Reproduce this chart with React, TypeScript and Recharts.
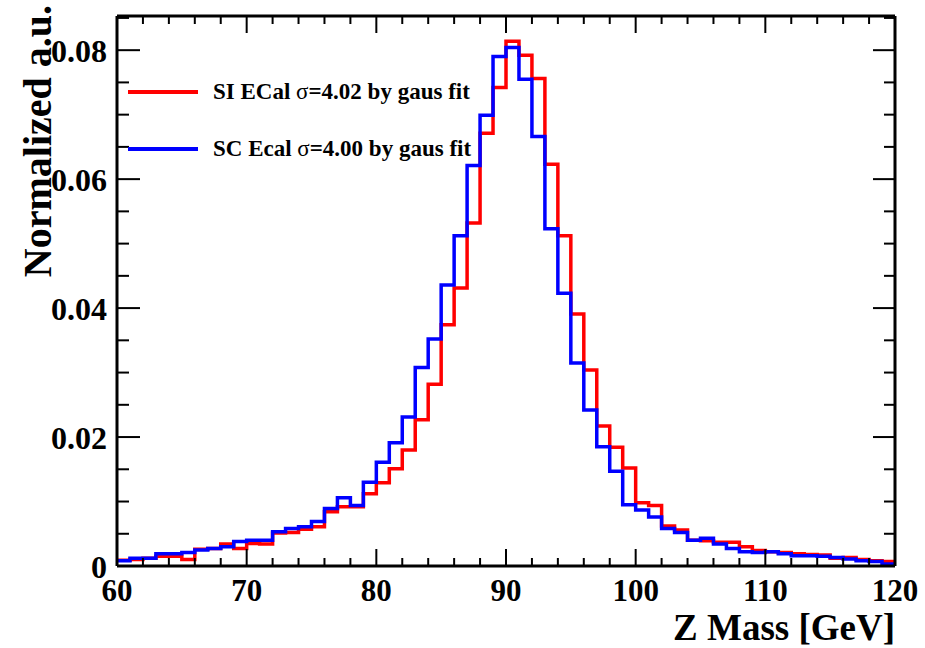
import { Label, Legend, Line, LineChart, XAxis, YAxis } from 'recharts'

// lower edge of each 1 GeV bin
const binLow = [
  60, 61, 62, 63, 64, 65, 66, 67, 68, 69, 70, 71, 72, 73, 74, 75, 76, 77, 78, 79,
  80, 81, 82, 83, 84, 85, 86, 87, 88, 89, 90, 91, 92, 93, 94, 95, 96, 97, 98, 99,
  100, 101, 102, 103, 104, 105, 106, 107, 108, 109, 110, 111, 112, 113, 114, 115, 116, 117, 118, 119,
]
const upperEdge = 120

const siEcal = [
  0.0009, 0.0010, 0.0012, 0.0015, 0.0015, 0.0010, 0.0026, 0.0027, 0.0034, 0.0027,
  0.0035, 0.0034, 0.0051, 0.0052, 0.0057, 0.0061, 0.0084, 0.0092, 0.0092, 0.0112,
  0.0129, 0.0151, 0.0180, 0.0227, 0.0282, 0.0374, 0.0431, 0.0532, 0.0671, 0.0742,
  0.0814, 0.0792, 0.0756, 0.0623, 0.0512, 0.0391, 0.0304, 0.0217, 0.0184, 0.0152,
  0.0098, 0.0094, 0.0062, 0.0056, 0.0040, 0.0039, 0.0037, 0.0037, 0.0030, 0.0024,
  0.0022, 0.0021, 0.0019, 0.0018, 0.0017, 0.0012, 0.0013, 0.0010, 0.0008, 0.0007,
]
const scEcal = [
  0.0008, 0.0012, 0.0012, 0.0019, 0.0019, 0.0021, 0.0025, 0.0027, 0.0030, 0.0038,
  0.0040, 0.0040, 0.0053, 0.0058, 0.0061, 0.0069, 0.0089, 0.0106, 0.0094, 0.0130,
  0.0161, 0.0191, 0.0231, 0.0308, 0.0352, 0.0436, 0.0512, 0.0621, 0.0699, 0.0790,
  0.0804, 0.0755, 0.0666, 0.0523, 0.0423, 0.0315, 0.0242, 0.0185, 0.0147, 0.0095,
  0.0087, 0.0076, 0.0058, 0.0052, 0.0040, 0.0043, 0.0034, 0.0027, 0.0022, 0.0021,
  0.0022, 0.0019, 0.0016, 0.0016, 0.0015, 0.0013, 0.0011, 0.0008, 0.0007, 0.0003,
]

const seriesNames = ['SI ECal σ=4.02 by gaus fit', 'SC Ecal σ=4.00 by gaus fit']

const xTicks = [
  60, 62, 64, 66, 68, 70, 72, 74, 76, 78, 80, 82, 84, 86, 88, 90,
  92, 94, 96, 98, 100, 102, 104, 106, 108, 110, 112, 114, 116, 118, 120,
]
const xLabels = [60, 70, 80, 90, 100, 110, 120]
const yTicks = [
  0, 0.005, 0.01, 0.015, 0.02, 0.025, 0.03, 0.035, 0.04,
  0.045, 0.05, 0.055, 0.06, 0.065, 0.07, 0.075, 0.08, 0.085,
]
const yLabels = [0, 0.02, 0.04, 0.06, 0.08]
const yMax = 0.0853

const FONT = { fontFamily: '"Liberation Serif", "DejaVu Serif", serif', fontWeight: 700 }

// stepAfter needs one more point at the upper edge to close the last bin
const rows = binLow.map((x, i) => ({ x, si: siEcal[i], sc: scEcal[i] }))
rows.push({ x: upperEdge, si: siEcal[siEcal.length - 1], sc: scEcal[scEcal.length - 1] })

const isYLabel = (v: number) => yLabels.some(l => Math.abs(l - v) < 1e-9)

function BottomTick({ x, y, payload }: any) {
  const major = xLabels.includes(payload.value)
  return (
    <g>
      <line x1={x} x2={x} y1={y} y2={y - (major ? 17 : 8)} stroke="#000" strokeWidth={2} />
      {major && (
        <text x={x} y={y + 35} textAnchor="middle" fontSize={31} fill="#000" style={FONT}>
          {payload.value}
        </text>
      )}
    </g>
  )
}

function TopTick({ x, y, payload }: any) {
  const major = xLabels.includes(payload.value)
  return <line x1={x} x2={x} y1={y} y2={y + (major ? 17 : 8)} stroke="#000" strokeWidth={2} />
}

function LeftTick({ x, y, payload }: any) {
  const major = isYLabel(payload.value)
  return (
    <g>
      <line x1={x} x2={x + (major ? 23 : 12)} y1={y} y2={y} stroke="#000" strokeWidth={2} />
      {major && (
        <text x={x - 10} y={y + 12} textAnchor="end" fontSize={32} fill="#000" style={FONT}>
          {payload.value === 0 ? '0' : payload.value.toFixed(2)}
        </text>
      )}
    </g>
  )
}

function RightTick({ x, y, payload }: any) {
  const major = isYLabel(payload.value)
  return <line x1={x} x2={x - (major ? 22 : 11)} y1={y} y2={y} stroke="#000" strokeWidth={2} />
}

function LegendBox({ payload }: any) {
  const items = [...(payload || [])].sort(
    (a: any, b: any) => seriesNames.indexOf(a.value) - seriesNames.indexOf(b.value),
  )
  return (
    <div>
      {items.map((entry: any) => {
        const [before, after] = String(entry.value).split('σ')
        return (
          <div key={entry.value} style={{ display: 'flex', alignItems: 'center', height: 57 }}>
            <div style={{ width: 70, height: 4, background: entry.color }} />
            <span style={{ ...FONT, fontSize: 23, lineHeight: '23px', marginLeft: 15, color: '#000', whiteSpace: 'nowrap' }}>
              {before}
              <span style={{ fontWeight: 400 }}>σ</span>
              {after}
            </span>
          </div>
        )
      })}
    </div>
  )
}

export default function App() {
  return (
    <div style={{ position: 'absolute', left: 0, top: 0, background: '#fff' }}>
      <LineChart width={925} height={648} data={rows} margin={{ top: 15, right: 29, bottom: 0, left: 0 }}>
        <XAxis
          dataKey="x"
          type="number"
          domain={[60, 120]}
          ticks={xTicks}
          interval={0}
          height={82}
          tickSize={0}
          tickMargin={0}
          tickLine={false}
          axisLine={{ stroke: '#000', strokeWidth: 3 }}
          tick={<BottomTick />}
        >
          <Label
            content={() => (
              <text x={895} y={640} textAnchor="end" fontSize={37} fill="#000" style={FONT}>
                Z Mass [GeV]
              </text>
            )}
          />
        </XAxis>
        <XAxis
          xAxisId="top"
          dataKey="x"
          orientation="top"
          type="number"
          domain={[60, 120]}
          ticks={xTicks}
          interval={0}
          height={1}
          tickSize={0}
          tickMargin={0}
          tickLine={false}
          axisLine={{ stroke: '#000', strokeWidth: 3 }}
          tick={<TopTick />}
        />
        <YAxis
          type="number"
          domain={[0, yMax]}
          ticks={yTicks}
          interval={0}
          width={117}
          tickSize={0}
          tickMargin={0}
          tickLine={false}
          axisLine={{ stroke: '#000', strokeWidth: 3 }}
          tick={<LeftTick />}
          allowDataOverflow
        >
          <Label
            content={() => (
              <text
                x={51}
                y={5}
                transform="rotate(-90, 51, 5)"
                textAnchor="end"
                fontSize={40}
                fill="#000"
                style={FONT}
              >
                Normalized a.u.
              </text>
            )}
          />
        </YAxis>
        <YAxis
          yAxisId="right"
          orientation="right"
          type="number"
          domain={[0, yMax]}
          ticks={yTicks}
          interval={0}
          width={1}
          tickSize={0}
          tickMargin={0}
          tickLine={false}
          axisLine={{ stroke: '#000', strokeWidth: 3 }}
          tick={<RightTick />}
          allowDataOverflow
        />
        <Legend
          layout="horizontal"
          verticalAlign="middle"
          align="center"
          wrapperStyle={{ left: 128, top: 63, width: 420, height: 114 }}
          content={<LegendBox />}
        />
        <Line
          xAxisId="top"
          yAxisId="right"
          type="stepAfter"
          dataKey="si"
          name={seriesNames[0]}
          stroke="#ff0000"
          strokeWidth={3.5}
          dot={false}
          isAnimationActive={false}
        />
        <Line
          type="stepAfter"
          dataKey="sc"
          name={seriesNames[1]}
          stroke="#0000ff"
          strokeWidth={3.5}
          dot={false}
          isAnimationActive={false}
        />
      </LineChart>
    </div>
  )
}
